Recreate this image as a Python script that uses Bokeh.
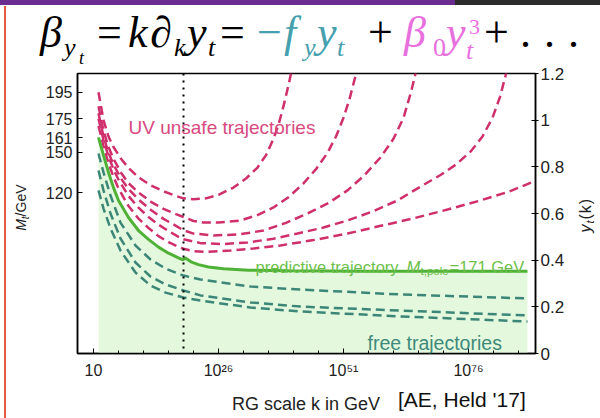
from bokeh.plotting import figure
from bokeh.models import Label, LinearAxis, FixedTicker, Span, GridBox, Div
from bokeh.embed import file_html
from bokeh.resources import INLINE

# ---------------- data ----------------
logk_ticks = [1, 26, 51, 76]
logk_tick_labels = ["10", "10²⁶", "10⁵¹", "10⁷⁶"]
yt_ticks = [0, 0.2, 0.4, 0.6, 0.8, 1, 1.2]
yt_tick_labels = ["0", "0.2", "0.4", "0.6", "0.8", "1", "1.2"]
mt_ticks = [120, 150, 161, 175, 195]
mt_per_yt = 174.0          # M_t = y_t * v / sqrt(2)
planck_logk = 19

green_logk = [2, 3, 4, 5, 6, 8, 10, 12, 14, 16, 18, 18.9, 19.3, 20.5, 22, 24, 27, 32, 40, 55, 70, 87.8]
green_yt = [0.926, 0.849, 0.776, 0.711, 0.656, 0.583, 0.527, 0.489, 0.456, 0.43, 0.41, 0.401, 0.41,
            0.393, 0.381, 0.371, 0.363, 0.357, 0.355, 0.353, 0.352, 0.352]

teal_logk = [2, 3, 4.4, 6.4, 9.4, 12.4, 15.4, 19, 22.4, 32.4, 42.4, 62.4, 87.8]
teal1_yt = [0.857, 0.776, 0.677, 0.561, 0.463, 0.403, 0.364, 0.334, 0.317, 0.287, 0.274, 0.253, 0.236]
teal2_yt = [0.784, 0.699, 0.60, 0.493, 0.39, 0.33, 0.296, 0.27, 0.249, 0.219, 0.201, 0.184, 0.163]
teal3_yt = [0.699, 0.621, 0.536, 0.441, 0.347, 0.291, 0.261, 0.24, 0.227, 0.197, 0.18, 0.159, 0.137]

pinkA_logk = [2, 3, 4, 5, 6.5, 8, 10, 12.5, 15, 17.5, 19, 21, 23.5, 26, 29, 31.5, 33.8, 35.5, 37, 38, 39, 40, 40.7, 41.5]
pinkA_yt = [1.12, 1.0, 0.93, 0.885, 0.835, 0.795, 0.755, 0.72, 0.695, 0.675, 0.665, 0.661, 0.665, 0.68,
            0.711, 0.75, 0.797, 0.85, 0.92, 0.98, 1.06, 1.15, 1.22, 1.3]
pinkB_logk = [2, 3, 4, 5, 6.5, 8, 10, 12.5, 15, 17.5, 19, 21, 23, 26, 30.4, 34, 37, 40, 43, 45.5, 47.8,
              49.5, 51, 52.2, 53.4, 54.4]
pinkB_yt = [1.06, 0.955, 0.885, 0.835, 0.775, 0.73, 0.69, 0.65, 0.62, 0.597, 0.585, 0.568, 0.561, 0.561,
            0.57, 0.595, 0.626, 0.67, 0.729, 0.79, 0.86, 0.93, 1.01, 1.09, 1.19, 1.3]
pinkC_logk = [2, 3, 4, 5, 6.5, 8, 10, 12.5, 15, 17.5, 19, 21, 25, 30, 35, 39.5, 43.8, 48, 51.8, 55, 58.4,
              61, 63, 64.5, 65.4, 66.2]
pinkC_yt = [1.03, 0.93, 0.86, 0.81, 0.75, 0.705, 0.66, 0.615, 0.577, 0.547, 0.528, 0.514, 0.506, 0.51,
            0.527, 0.56, 0.60, 0.645, 0.699, 0.76, 0.84, 0.92, 1.01, 1.12, 1.2, 1.3]
pinkD_logk = [2, 3, 4, 5, 6, 8, 10, 12, 14, 16, 18, 19, 22.4, 27, 31.8, 37, 41.8, 47, 51.8, 57, 61.8, 66,
              70.4, 73.5, 76.4, 78.8, 80.8, 82.3, 83.4, 84.2]
pinkD_yt = [1.006, 0.915, 0.845, 0.79, 0.745, 0.675, 0.625, 0.585, 0.552, 0.525, 0.5, 0.49, 0.473, 0.469,
            0.476, 0.492, 0.514, 0.54, 0.57, 0.61, 0.656, 0.71, 0.765, 0.81, 0.865, 0.93, 1.01, 1.1, 1.19, 1.28]
pinkE_logk = [2, 3, 4, 5, 6, 8, 10, 12, 14, 16, 18, 19, 21, 23.5, 28.4, 33, 38.4, 45, 51.8, 58, 65, 72,
              78.4, 84, 90]
pinkE_yt = [0.975, 0.89, 0.815, 0.757, 0.707, 0.632, 0.578, 0.538, 0.503, 0.477, 0.457, 0.449, 0.439,
            0.435, 0.441, 0.45, 0.463, 0.486, 0.514, 0.545, 0.579, 0.618, 0.656, 0.693, 0.745]

# ---------------- styling ----------------
PINK = "#cf2f6b"
TEAL = "#3b8677"
GREEN = "#4fb237"
FILL = "#e4f8de"
SANS = "Liberation Sans"
SERIF = "Liberation Serif"
W, H = 600, 418
FL, FB = 77, 353   # frame left / bottom (canvas px)

p = figure(width=W, height=H, x_range=(-2.2, 89.4), y_range=(0, 1.2),
           output_backend="svg", toolbar_location=None,
           min_border_left=77, min_border_right=65, min_border_top=73, min_border_bottom=65)
p.background_fill_color = "white"
p.border_fill_color = "white"
p.grid.visible = False
p.outline_line_color = "black"
p.outline_line_width = 1.5

# bottom axis
p.xaxis.ticker = FixedTicker(ticks=logk_ticks, minor_ticks=list(range(1, 90, 5)))
p.xaxis.major_label_overrides = dict(zip(logk_ticks, logk_tick_labels))
p.xaxis.major_tick_in = 5
p.xaxis.major_tick_out = 0
p.xaxis.minor_tick_in = 3
p.xaxis.minor_tick_out = 0
p.xaxis.major_label_standoff = 8
p.xaxis.major_label_text_font = SANS
p.xaxis.major_label_text_font_size = "16px"
p.xaxis.major_label_text_color = "#222222"
p.xaxis.axis_line_width = 1.5

# left axis (M_t / GeV)
left_pos = [m / mt_per_yt for m in mt_ticks]
p.yaxis.ticker = FixedTicker(ticks=left_pos, minor_ticks=[])
p.yaxis.major_label_overrides = {pos: str(m) for pos, m in zip(left_pos, mt_ticks)}
p.yaxis.major_tick_in = 5
p.yaxis.major_tick_out = 0
p.yaxis.major_label_standoff = 5
p.yaxis.major_label_text_font = SANS
p.yaxis.major_label_text_font_size = "16px"
p.yaxis.major_label_text_color = "#222222"
p.yaxis.axis_line_width = 1.5

# right axis (y_t)
ra = LinearAxis(ticker=FixedTicker(ticks=yt_ticks, minor_ticks=[]),
                major_label_overrides=dict(zip(yt_ticks, yt_tick_labels)))
ra.major_tick_in = 4
ra.major_tick_out = 3
ra.major_label_standoff = 2
ra.major_label_text_font = SANS
ra.major_label_text_font_size = "17px"
ra.major_label_text_color = "#222222"
ra.axis_line_width = 1.5
p.add_layout(ra, "right")

# shaded region under the predictive trajectory
p.varea(x=green_logk, y1=0, y2=green_yt, fill_color=FILL, fill_alpha=1)

dash = "9 5"
for yv in (teal1_yt, teal2_yt, teal3_yt):
    p.line(teal_logk, yv, line_color=TEAL, line_width=2.5, line_dash=dash)
for xv, yv in ((pinkA_logk, pinkA_yt), (pinkB_logk, pinkB_yt), (pinkC_logk, pinkC_yt),
               (pinkD_logk, pinkD_yt), (pinkE_logk, pinkE_yt)):
    p.line(xv, yv, line_color=PINK, line_width=2.5, line_dash=dash)
p.line(green_logk, green_yt, line_color=GREEN, line_width=3)

p.add_layout(Span(location=planck_logk, dimension="height", line_color="black",
                  line_width=2, line_dash="2 5"))


def lab(text, cx, cy, size, color="black", style="normal"):
    p.add_layout(Label(x=cx - FL, y=FB - cy, x_units="screen", y_units="screen", text=text,
                       text_font=SANS, text_font_size=f"{size}px", text_color=color,
                       text_font_style=style, text_align="left", text_baseline="alphabetic"))


# in-plot annotations
lab("UV unsafe trajectories", 128, 127, 19, "#d8497f")
lab("free trajectories", 367, 342, 19.5, "#3e8a7a")
lab("predictive trajectory", 255, 266, 16.5, "#6cbf4a")
lab("M", 406, 266, 16.5, "#6cbf4a", "italic")
lab("t,pole", 420, 270, 11.5, "#6cbf4a")
lab("=171 GeV", 449, 266, 16.5, "#6cbf4a")


# ---------------- HTML overlay for texts outside the plot frame ----------------
def sp(text, x, base, size, color="#000", font=SANS, italic=False, rot=False, extra=""):
    asc, desc = (0.891, 0.216) if font == SERIF else (0.905, 0.212)
    b = ((1 - (asc + desc)) / 2 + asc) * size
    st = (f"position:absolute;left:{x}px;top:{base - b:.2f}px;font-family:'{font}';"
          f"font-size:{size}px;line-height:1;color:{color};white-space:nowrap;margin:0;padding:0;")
    if italic:
        st += "font-style:italic;"
    if rot:
        st += f"transform:rotate(-90deg);transform-origin:0px {b:.2f}px;"
    st += extra
    return f'<span style="{st}">{text}</span>'


F, S = 44, 26
TEALF = "#45a0ae"
MAG = "#e870de"
parts = [
    # slide edges
    '<div style="position:absolute;left:0;top:0;width:455px;height:5px;background:#6a2c8e"></div>',
    '<div style="position:absolute;left:455px;top:0;width:145px;height:5px;background:#2b2b2b"></div>',
    '<div style="position:absolute;left:4px;top:6px;width:2px;height:412px;background:#e8583e"></div>',
    # formula
    sp("β", 40, 48, F, font=SERIF, italic=True),
    sp("y", 64, 57, S, font=SERIF, italic=True),
    sp("t", 79, 64, 18, font=SERIF, italic=True),
    sp("=", 97, 48, F, font=SERIF),
    sp("k", 128, 48, F, font=SERIF, italic=True),
    sp("∂", 150, 48, F, font=SERIF, italic=True),
    sp("k", 174, 57, S, font=SERIF, italic=True),
    sp("y", 187, 48, F, font=SERIF, italic=True),
    sp("t", 208, 57, S, font=SERIF, italic=True),
    sp("=", 220, 48, F, font=SERIF),
    sp("−", 257, 48, F, TEALF, SERIF),
    sp("f", 284, 48, F, TEALF, SERIF, True),
    sp("y", 304, 57, S, TEALF, SERIF, True),
    sp("y", 317, 48, F, TEALF, SERIF, True),
    sp("t", 337, 57, S, TEALF, SERIF, True),
    sp("+", 368, 48, F, font=SERIF),
    sp("β", 404, 48, F, MAG, SERIF, True),
    sp("0", 433, 57, S, MAG, SERIF),
    sp("y", 446, 48, F, MAG, SERIF, True),
    sp("t", 466, 60, S, MAG, SERIF, True),
    sp("3", 469, 34, 22, MAG, SERIF),
    sp("+", 484, 48, F, font=SERIF),
    sp(".", 520, 48, F, font=SERIF),
    sp(".", 544, 48, F, font=SERIF),
    sp(".", 568, 48, F, font=SERIF),
    # axis titles
    sp('<i>M</i><span style="font-size:10px;vertical-align:-3px"><i>t</i></span>/GeV',
       26, 231, 14, "#222222", rot=True),
    sp('<i>y</i><span style="font-size:11px;vertical-align:-3px"><i>t</i></span>(k)',
       592, 233, 16, "#222222", rot=True, extra="letter-spacing:1px;"),
    sp("RG scale k in GeV", 232, 410, 18, "#222222"),
    sp("[AE, Held '17]", 398, 407, 21, "#111111"),
]
html = (f'<div style="position:relative;width:{W}px;height:{H}px;margin:0;padding:0;">'
        + "".join(parts) + "</div>")
overlay = Div(text=html, width=W, height=H, margin=(0, 0, 0, 0))

layout = GridBox(children=[(p, 0, 0), (overlay, 0, 0)])
open("out.html", "w").write(file_html(layout, INLINE))
